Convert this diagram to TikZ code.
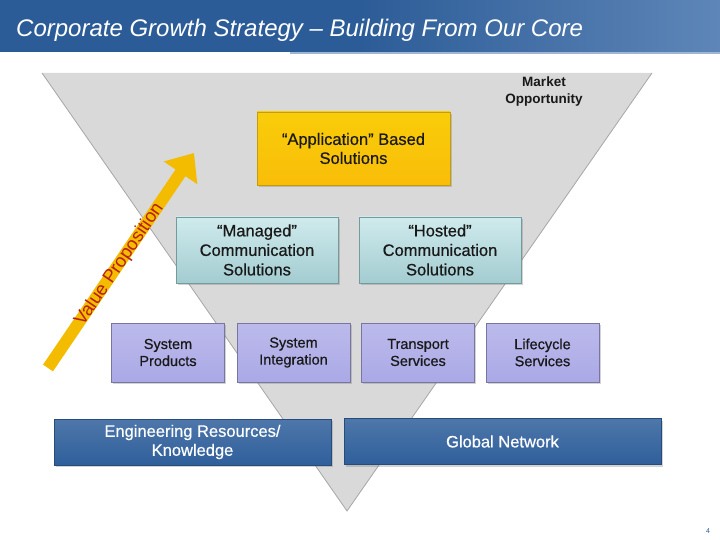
\documentclass[tikz,border=0pt]{standalone}
\usepackage{fontspec}
\setmainfont{Liberation Sans}
\newfontfamily\boxfont{Liberation Sans}[FakeBold=0.6]
\usepackage{xcolor}
\usepackage{tikz}
\usetikzlibrary{arrows.meta, positioning, calc, shadows}

\definecolor{barblue}{HTML}{2C5C97}
\definecolor{barlight}{HTML}{5E86B8}
\definecolor{funnelgray}{HTML}{D9D9D9}
\definecolor{appgold}{HTML}{F8C40A}
\definecolor{solteal}{HTML}{A9DADF}
\definecolor{svcviolet}{HTML}{ABA9E6}
\definecolor{baseblue}{HTML}{2F5F9B}
\definecolor{arrowgold}{HTML}{F3BC00}
\definecolor{vpred}{HTML}{B8200E}

\begin{document}
\begin{tikzpicture}[x=1pt, y=-1pt,
				every node/.style={align=center, inner sep=0pt, text=black!90},
				boxshadow/.style={drop shadow={opacity=0.35, shadow xshift=1.5pt, shadow yshift=-2pt}},
				appbox/.style={rectangle, boxshadow, draw=appgold!80!black, top color=appgold!85!yellow, bottom color=appgold!90!orange,
					minimum width=193pt, minimum height=73pt, font=\boxfont\fontsize{16.5}{19}\selectfont},
				solbox/.style={rectangle, boxshadow, draw=solteal!70!black, top color=solteal!55!white, bottom color=solteal!85!gray,
					minimum width=162pt, minimum height=66pt, font=\boxfont\fontsize{16.5}{19.5}\selectfont},
				svcbox/.style={rectangle, boxshadow, draw=svcviolet!70!black, top color=svcviolet!80!white, bottom color=svcviolet,
					minimum width=113pt, minimum height=59pt, font=\boxfont\fontsize{14.5}{17}\selectfont},
				basebox/.style={rectangle, boxshadow, draw=baseblue!80!black, top color=baseblue!85!white, bottom color=baseblue,
					minimum height=46pt, text=white, font=\boxfont\fontsize{16.5}{19}\selectfont}
				]
				\useasboundingbox (0,0) rectangle (720,540);
				% title bar
				\shade[left color=barblue, right color=barlight, middle color=barblue] (0,0) rectangle (720,52);
				\fill[barlight!60!white] (290,52) rectangle (720,54);
				\node[anchor=base west, text=white, font=\fontsize{24}{27}\selectfont\itshape] (title) at (16,37)
					{Corporate Growth Strategy – Building From Our Core};
				% funnel
				\fill[funnelgray] (42,73) -- (652,73) -- (347,511) -- cycle;
				\draw[black!35, line width=0.8pt] (42,73) -- (347,511) -- (652,73);
				\node[font=\fontsize{13.5}{17}\selectfont\bfseries] (market) at (544,92) {Market\\Opportunity};
				% value arrow
				\coordinate (vpfoot) at (48,368);
				\coordinate (vptip) at (194,153);
				\draw[arrowgold, line width=12pt, -{Triangle[width=39pt, length=24pt]}] (vpfoot) -- (vptip);
				\path (vpfoot) -- (vptip) node[pos=0.484, sloped, yshift=-1pt, text=vpred, font=\fontsize{18.5}{20}\selectfont] (vplabel) {Value Proposition};
				% boxes
				\node[appbox] (app) at (353.5,148.5) {“Application” Based\\Solutions};
				\node[solbox] (managed) at (257,250) {“Managed”\\Communication\\Solutions};
				\node[solbox] (hosted) at (440,250) {“Hosted”\\Communication\\Solutions};
				\node[svcbox] (sysprod) at (168,352.5) {System\\Products};
				\node[svcbox] (sysint) at (293.5,352.5) {System\\Integration};
				\node[svcbox] (transport) at (418,352.5) {Transport\\Services};
				\node[svcbox] (lifecycle) at (542.5,352.5) {Lifecycle\\Services};
				\node[basebox, minimum width=277pt] (engres) at (192.5,442) {Engineering Resources/\\Knowledge};
				\node[basebox, minimum width=317pt] (globnet) at (502.5,441.5) {Global Network};
				\node[text=barblue, font=\fontsize{7}{8}\selectfont] (pagenum) at (708,531) {4};
			\end{tikzpicture}
\end{document}
